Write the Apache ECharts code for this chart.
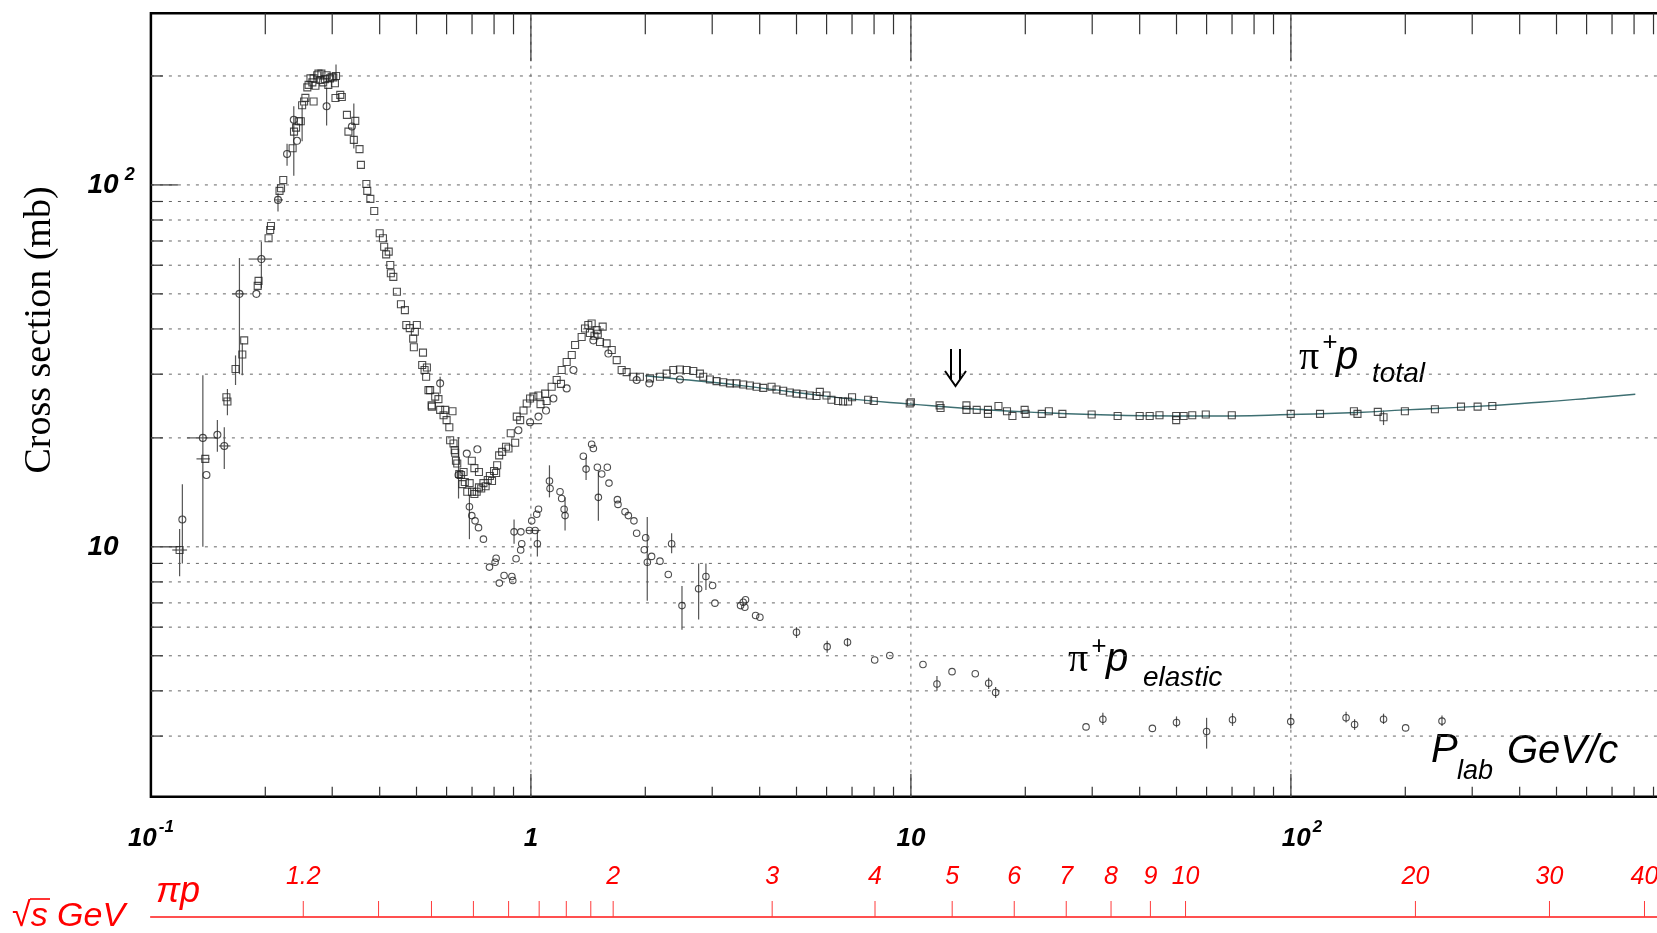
<!DOCTYPE html>
<html><head><meta charset="utf-8">
<script src="https://cdn.jsdelivr.net/npm/echarts@6/dist/echarts.min.js"></script>
<style>html,body{margin:0;padding:0;background:#fff}#c{width:1657px;height:933px}</style>
</head><body><div id="c"></div>
<script>
// ---------------- DATA (p_lab GeV/c , cross section mb) ----------------
const totalSquares = [
[0.119,9.8],[0.139,17.5],[0.158,25.9],[0.159,25.2],[0.167,31.0],[0.174,34.0],[0.176,37.2],[0.191,52.6],[0.192,54.3],
[0.204,71.2],[0.206,75.1],[0.207,77.0],[0.218,96.3],[0.220,97.9],[0.223,103.2],[0.236,126.3],[0.238,140.4],[0.241,144],
[0.245,150],[0.248,150],[0.250,166],[0.253,170],[0.255,174],[0.268,170],
[0.258,186],[0.260,189],[0.263,197],[0.266,192],[0.268,197],[0.271,188],[0.274,201],[0.276,203],[0.279,195],[0.281,203],
[0.284,192],[0.287,196],[0.290,201],[0.293,189],[0.296,197],[0.299,199],[0.302,198],[0.305,191],[0.307,200],
[0.306,173.8],[0.315,177.4],[0.318,175],[0.328,156.2],[0.331,140.4],[0.342,133.2],[0.345,150.3],[0.354,125.6],[0.357,113.6],
[0.369,100.6],[0.371,96.3],[0.378,91.5],[0.387,84.7],[0.400,73.5],[0.408,71.2],[0.411,67.5],[0.416,64.3],[0.4225,65.4],
[0.4265,60.1],[0.428,57.0],[0.4345,55.7],[0.444,50.7],[0.455,46.8],[0.466,45.1],[0.47,41.0],[0.48,40.2],[0.49,37.6],
[0.495,39.3],[0.501,41.0],[0.492,35.6],[0.52,34.4],[0.5175,31.8],[0.5325,31.3],[0.525,30.8],[0.53,29.5],[0.543,27.1],[0.548,24.6],
[0.5376,27.1],[0.56,26.0],[0.5711,25.6],[0.5489,24.4],[0.577,23.9],[0.5951,23.9],[0.6218,23.7],[0.589,23.1],[0.60,22.4],
[0.61,21.4],[0.613,19.7],[0.6256,19.3],[0.63,18.5],[0.632,18.2],[0.635,17.3],[0.64,17.0],[0.648,15.9],[0.655,15.8],[0.66,14.9],[0.665,16.1],
[0.67,15.1],[0.68,14.2],[0.69,15.0],[0.70,14.2],[0.71,14.0],[0.72,14.2],[0.73,14.6],[0.74,14.5],[0.75,15.0],[0.76,14.7],
[0.77,15.3],[0.78,15.7],[0.79,15.2],[0.80,16.2],[0.81,16.0],[0.815,16.8],[0.825,17.9],[0.84,18.3],[0.86,18.9],[0.873,18.7],
[0.885,20.6],[0.909,19.4],[0.699,17.3],[0.71,16.5],[0.73,16.1],
[0.918,22.9],[0.937,22.4],[0.956,23.8],[0.975,24.9],[0.995,25.7],[1.015,26.0],[1.047,26.2],[1.09,26.5],[1.134,27.7],[1.169,28.9],
[1.205,30.8],[1.242,32.4],[1.281,33.9],[1.307,36.1],[1.36,38.0],[1.388,40.1],[1.416,41.0],[1.445,41.4],[1.49,39.7],[1.545,40.6],
[1.582,36.5],[1.632,35.0],[1.682,32.8],[1.733,30.8],[1.786,30.4],[1.86,29.5],[1.936,29.5],[2.058,29.2],[2.186,29.5],[2.276,30.1],
[2.37,30.8],[2.467,30.9],[2.569,30.8],[2.675,30.6],[2.785,30.1],[1.43,39.0],[1.47,38.3],[1.50,38.8],[1.52,36.8],[1.06,24.8],[1.10,25.3],[1.2,28.2],
[2.842,29.5],[2.959,29.0],[3.08,28.7],[3.208,28.5],[3.34,28.3],[3.477,28.3],[3.62,28.1],[3.77,27.9],[3.925,27.7],[4.087,27.5],
[4.298,27.7],[4.43,27.2],[4.612,27.0],[4.802,26.7],[5.0,26.5],[5.205,26.4],[5.42,26.2],[5.643,26.1],[5.759,26.8],[5.996,26.2],
[6.18,25.5],[6.435,25.3],[6.63,25.2],[6.834,25.2],[7.0,25.9],[7.716,25.5],[7.985,25.3],[9.93,24.9],[10.0,25.1],[11.9,24.6],
[11.97,24.2],[14.0,24.6],[14.0,23.9],[14.9,23.9],[15.95,23.9],[15.95,23.3],[17.0,24.5],[17.9,23.7],[18.5,23.0],
[19.92,23.9],[20.05,23.3],[22.1,23.3],[23.07,23.7],[25.04,23.3],[29.9,23.2],[35.0,23.0],[40.0,23.0],[42.5,23.0],[45.1,23.1],
[49.9,23.0],[49.9,22.4],[52.2,23.0],[55.0,23.1],[59.7,23.2],[69.9,23.1],[99.9,23.3],[119.3,23.3],[146.5,23.7],[149.7,23.3],
[169.3,23.6],[175.3,22.8],[199.5,23.7],[239.3,24.0],[280.3,24.4],[310,24.4],[338.9,24.5]
];
const totalCircles = [
[0.121,11.9],[0.137,20.0],[0.140,15.8],[0.1496,20.4],[0.156,19.0],[0.171,50.0],[0.1895,50.0],[0.1953,62.4],[0.216,90.9],
[0.2282,121.8],[0.2377,151.4],[0.2424,132.4],[0.290,165],[0.338,145],[0.577,28.3],[0.645,15.8],[0.678,18.1],[0.723,18.6],
[0.927,21.0],[0.995,22.1],[1.047,22.9],[1.096,23.8],[1.146,25.7],[1.242,27.4],[1.294,30.8],[1.46,37.2],[1.599,34.2],
[1.898,28.9],[2.049,28.3],[2.467,29.0]
];
const elasticPts = [
[0.689,12.9],[0.699,12.2],[0.713,11.8],[0.728,11.3],[0.75,10.5],[0.778,8.79],[0.805,9.07],[0.81,9.3],[0.826,7.94],[0.85,8.33],
[0.891,8.28],[0.896,8.07],[0.914,9.27],[0.903,11.0],[0.941,11.0],[0.946,10.2],[0.94,9.8],[0.991,11.1],[1.005,11.8],[1.026,11.1],
[1.036,12.3],[1.047,12.7],[1.04,10.2],[1.119,15.2],[1.123,14.5],[1.193,14.2],[1.205,13.6],[1.223,12.7],[1.23,12.2],[1.374,17.8],
[1.397,16.4],[1.445,19.2],[1.46,18.7],[1.496,16.6],[1.505,13.7],[1.536,15.9],[1.589,16.6],[1.605,15.0],[1.689,13.5],[1.695,13.1],
[1.769,12.5],[1.805,12.2],[1.867,11.8],[1.898,10.9],[2.005,10.6],[1.988,9.82],[2.025,9.07],[2.078,9.41],[2.186,9.13],[2.299,8.39],
[2.346,10.2],[2.498,6.88],[2.763,7.66],[2.888,8.28],[3.007,7.82],[3.05,6.99],[3.562,6.88],[3.62,7.03],[3.671,7.14],[3.656,6.81],
[3.902,6.46],[4.005,6.39],[5.0,5.81],[6.02,5.30],[6.81,5.45],[8.03,4.87],[8.80,5.01],[10.76,4.73],[11.71,4.18],[12.83,4.52],
[14.77,4.46],[16.02,4.20],[16.71,3.96],[28.9,3.18],[32.0,3.34],[43.2,3.15],[50.0,3.27],[60.0,3.09],[70.2,3.33],[99.9,3.29],
[139.7,3.37],[147.1,3.23],[175.3,3.34],[200.4,3.16],[249.8,3.30]
];
const fitCurve = [
[2.0,29.7],[2.5,29.0],[3,28.5],[4,27.5],[5,26.7],[7,25.6],[10,24.8],[15,24.0],[20,23.6],[30,23.2],[50,23.0],[70,23.0],
[100,23.2],[150,23.5],[200,23.9],[300,24.4],[450,25.1],[600,25.7],[806,26.4]
];
// vertical error bars: [p, low, high]
const errY = [
[0.119,8.3,11.2],[0.121,9.0,14.9],[0.137,10.0,29.8],[0.1496,18.3,22.4],[0.156,16.4,21.4],[0.159,23.1,27.3],[0.167,28.0,33.8],
[0.174,29.8,36.5],[0.171,30.0,62.8],[0.1953,51.8,69.7],[0.216,84.4,94.8],[0.2282,113,130],[0.2377,106,165],[0.25,132,166],
[0.290,146,186],[0.307,195,215],[0.342,126,168],[0.577,26.5,29.5],[0.645,13.6,20.1],[0.689,10.5,13.9],[0.903,10.2,11.9],
[1.04,9.4,11.1],[1.119,13.7,16.8],[1.23,11.1,13.7],[1.397,15.3,17.7],[1.505,11.8,16.2],[2.024,7.1,12.1],[2.346,9.6,10.9],
[2.498,5.9,7.8],[2.763,6.3,9.0],[2.888,7.6,9.0],[60.0,2.77,3.37],[175.3,21.7,23.8],
[32.0,3.22,3.48],[50.0,3.17,3.40],[70.2,3.20,3.47],[99.9,3.15,3.45],[139.7,3.27,3.50],[147.1,3.12,3.34],[175.3,3.24,3.46],
[249.8,3.20,3.42],[11.71,4.0,4.4],[16.02,4.05,4.35],[16.71,3.82,4.10],[5.0,5.6,6.0],[6.02,5.1,5.5],[6.81,5.3,5.6]
];
// horizontal error bars: [p low, p high, sigma]
const errX = [
[0.1138,0.1245,9.8],[0.1245,0.1494,20.0],[0.1318,0.1429,17.5],[0.151,0.162,19.0],[0.1636,0.1792,50.0],
[0.1808,0.2083,62.4],[0.2115,0.2227,90.9],[0.975,1.07,21.9],[0.97,1.06,11.1]
];
// axis ticks / grid values
const xMajorTicks = [1, 10, 100];
const xMinorTicks = [0.2,0.3,0.4,0.5,0.6,0.7,0.8,0.9,2,3,4,5,6,7,8,9,20,30,40,50,60,70,80,90,200,300,400,500,600,700,800,900];
const yMajorTicks = [10, 100];
const yMinorTicks = [3,4,5,6,7,8,9,20,30,40,50,60,70,80,90,200];
const xGridValues = [1, 10, 100];
const yGridValues = [3,4,5,6,7,8,9,10,20,30,40,50,60,70,80,90,100,200];
const sqrtSLabeled = [1.2,2,3,4,5,6,7,8,9,10,20,30,40];
const sqrtSUnlabeled = [1.3,1.4,1.5,1.6,1.7,1.8,1.9];
const X_MIN = 0.1, X_MAX = 1000, Y_MIN = 2.04, Y_MAX = 298;

// pi+ p kinematics: sqrt(s) -> p_lab
const M_PI = 0.13957, M_P = 0.93827;
function plabFromSqrtS(w){ const s=w*w; const E=(s-M_P*M_P-M_PI*M_PI)/(2*M_P); return Math.sqrt(E*E-M_PI*M_PI); }
const redTicks = sqrtSLabeled.map(w=>({p:plabFromSqrtS(w), label:String(w)}))
  .concat(sqrtSUnlabeled.map(w=>({p:plabFromSqrtS(w), label:''})));

const FONT = '"Liberation Sans", Arial, sans-serif';
const chart = echarts.init(document.getElementById('c'));

function isPow10(v){ const l = Math.log10(v); return Math.abs(l - Math.round(l)) < 1e-6 ? Math.round(l) : null; }

const GRID_LEFT = 150.9, GRID_W = 1520;
const option = {
  animation: false,
  backgroundColor: '#fff',
  grid: [
    {left:GRID_LEFT, width:GRID_W, top:13.3, height:783.4, outerBoundsMode:'none', containLabel:false,
     show:true, borderColor:'#000', borderWidth:2.5, backgroundColor:'rgba(0,0,0,0)'},
    {left:GRID_LEFT, width:GRID_W, top:901, height:16, outerBoundsMode:'none', containLabel:false, show:false}
  ],
  xAxis: [
    {type:'log', logBase:10, gridIndex:0, min:X_MIN, max:X_MAX,
     axisLine:{show:false}, axisTick:{show:false}, splitLine:{show:false},
     axisLabel:{show:true, margin:22, formatter:function(v){
        const e = isPow10(v);
        if (e===null || e>2) return '';
        if (e===0) return '{b|1}';
        if (e===1) return '{b|10}';
        if (e>0) return '{pad|}{b|10}{s|' + e + '}';
        return '{b|10}{s|' + e + '}';
      },
      rich:{
        pad:{width:22, lineHeight:40},
        b:{fontFamily:FONT, fontStyle:'italic', fontWeight:'bold', fontSize:26, lineHeight:40, color:'#000', verticalAlign:'middle'},
        s:{fontFamily:FONT, fontStyle:'italic', fontWeight:'bold', fontSize:17, lineHeight:17, color:'#000', verticalAlign:'top', padding:[0,0,0,2]}
      }}
    },
    {type:'log', logBase:10, gridIndex:1, min:X_MIN, max:X_MAX,
     axisLine:{show:true, lineStyle:{color:'#ff5050', width:2}}, axisTick:{show:false}, axisLabel:{show:false}, splitLine:{show:false}}
  ],
  yAxis: [
    {type:'log', logBase:10, gridIndex:0, min:Y_MIN, max:Y_MAX,
     axisLine:{show:false}, axisTick:{show:false}, splitLine:{show:false},
     axisLabel:{show:true, margin:63.4, align:'left', formatter:function(v){
        const e = isPow10(v);
        if (e===1) return '{b|10}';
        if (e===2) return '{b|10}{s|2}';
        return '';
      },
      rich:{
        b:{fontFamily:FONT, fontStyle:'italic', fontWeight:'bold', fontSize:28, lineHeight:38, color:'#000', verticalAlign:'middle'},
        s:{fontFamily:FONT, fontStyle:'italic', fontWeight:'bold', fontSize:18, lineHeight:18, color:'#000', verticalAlign:'top', padding:[0,0,0,6]}
      }}
    },
    {type:'value', gridIndex:1, min:0, max:1, show:false}
  ],
  series: [
    {type:'custom', xAxisIndex:0, yAxisIndex:0, z:1, silent:true, clip:false,
     data: yGridValues.map(v=>[X_MIN, v]), encode:{x:0,y:1},
     renderItem:function(params, api){
       const v = api.value(1); const a = api.coord([X_MIN, v]); const b = api.coord([X_MAX, v]);
       return {type:'line', shape:{x1:a[0], y1:a[1], x2:b[0], y2:b[1]}, style:{stroke:'#666', lineWidth:1, lineDash:[3,6]}};
     }},
    {type:'custom', xAxisIndex:0, yAxisIndex:0, z:1, silent:true, clip:false,
     data: xGridValues.map(v=>[v, Y_MIN]), encode:{x:0,y:1},
     renderItem:function(params, api){
       const v = api.value(0); const a = api.coord([v, Y_MIN]); const b = api.coord([v, Y_MAX]);
       return {type:'line', shape:{x1:a[0], y1:a[1], x2:b[0], y2:b[1]}, style:{stroke:'#666', lineWidth:1, lineDash:[3,5]}};
     }},
    {type:'custom', xAxisIndex:0, yAxisIndex:0, z:3, silent:true, clip:false,
     data: xMajorTicks.map(v=>[v, Y_MIN, 1]).concat(xMinorTicks.map(v=>[v, Y_MIN, 0])), encode:{x:0,y:1},
     renderItem:function(params, api){
       const v = api.value(0), major = api.value(2);
       const b = api.coord([v, Y_MIN]); const t = api.coord([v, Y_MAX]);
       const st = {stroke:'#333', lineWidth:1.2};
       return {type:'group', children:[
         {type:'line', shape:{x1:b[0], y1:b[1], x2:b[0], y2:b[1]-(major?23:10)}, style:st},
         {type:'line', shape:{x1:t[0], y1:t[1], x2:t[0], y2:t[1]+(major?48:21)}, style:st}
       ]};
     }},
    {type:'custom', xAxisIndex:0, yAxisIndex:0, z:3, silent:true, clip:false,
     data: yMajorTicks.map(v=>[X_MIN, v, 1]).concat(yMinorTicks.map(v=>[X_MIN, v, 0])), encode:{x:0,y:1},
     renderItem:function(params, api){
       const v = api.value(1), major = api.value(2);
       const a = api.coord([X_MIN, v]);
       return {type:'line', shape:{x1:a[0], y1:a[1], x2:a[0]+(major?27:12), y2:a[1]}, style:{stroke:'#333', lineWidth:1.2}};
     }},
    {type:'line', xAxisIndex:0, yAxisIndex:0, z:4, data:fitCurve, smooth:true, showSymbol:false, silent:true,
     lineStyle:{color:'#3e6f72', width:1.4}},
    {type:'custom', xAxisIndex:0, yAxisIndex:0, z:4, silent:true,
     data: errY, encode:{x:0, y:[1,2]},
     renderItem:function(params, api){
       const p = api.value(0); const a = api.coord([p, api.value(1)]); const b = api.coord([p, api.value(2)]);
       return {type:'line', shape:{x1:a[0], y1:a[1], x2:b[0], y2:b[1]}, style:{stroke:'#555', lineWidth:1.2}};
     }},
    {type:'custom', xAxisIndex:0, yAxisIndex:0, z:4, silent:true,
     data: errX, encode:{x:[0,1], y:2},
     renderItem:function(params, api){
       const s = api.value(2); const a = api.coord([api.value(0), s]); const b = api.coord([api.value(1), s]);
       return {type:'line', shape:{x1:a[0], y1:a[1], x2:b[0], y2:b[1]}, style:{stroke:'#555', lineWidth:1.2}};
     }},
    {type:'scatter', name:'total', xAxisIndex:0, yAxisIndex:0, z:5, data:totalSquares, symbol:'rect', symbolSize:7,
     itemStyle:{color:'rgba(255,255,255,0)', borderColor:'#222', borderWidth:1.1}},
    {type:'scatter', name:'total2', xAxisIndex:0, yAxisIndex:0, z:5, data:totalCircles, symbol:'circle', symbolSize:7,
     itemStyle:{color:'rgba(255,255,255,0)', borderColor:'#222', borderWidth:1.1}},
    {type:'scatter', name:'elastic', xAxisIndex:0, yAxisIndex:0, z:5, data:elasticPts, symbol:'circle', symbolSize:6.5,
     itemStyle:{color:'rgba(255,255,255,0)', borderColor:'#222', borderWidth:1.1}},
    {type:'custom', xAxisIndex:1, yAxisIndex:1, z:5, silent:true, clip:false,
     data: redTicks.map(t=>[t.p, 0]), encode:{x:0,y:1},
     renderItem:function(params, api){
       const t = redTicks[params.dataIndex];
       const a = api.coord([t.p, 0]); const b = api.coord([t.p, 1]);
       const children = [{type:'line', shape:{x1:a[0], y1:a[1], x2:b[0], y2:b[1]}, style:{stroke:'#ff3b3b', lineWidth:1}}];
       if (t.label) children.push({type:'text', style:{text:t.label, x:b[0], y:b[1]-24, align:'center', verticalAlign:'middle',
          textAlign:'center', textVerticalAlign:'middle', fill:'#ff0000', font:'italic 25px ' + FONT}});
       return {type:'group', children:children};
     }}
  ],
  graphic: [
    {type:'text', x:40, y:330, rotation:Math.PI/2, style:{text:'Cross section (mb)', font:'38px "Liberation Serif", "Times New Roman", serif',
      fill:'#000', align:'center', verticalAlign:'middle', textAlign:'center', textVerticalAlign:'middle'}},
    // pi+ p total
    {type:'text', x:1299, y:358, style:{text:'π', font:'40px "Liberation Serif", serif', fill:'#000', verticalAlign:'middle', textVerticalAlign:'middle'}},
    {type:'text', x:1322, y:343, style:{text:'+', font:'italic 26px ' + FONT, fill:'#000', verticalAlign:'middle', textVerticalAlign:'middle'}},
    {type:'text', x:1336, y:357.6, style:{text:'p', font:'italic 40px ' + FONT, fill:'#000', verticalAlign:'middle', textVerticalAlign:'middle'}},
    {type:'text', x:1372, y:374.3, style:{text:'total', font:'italic 28px ' + FONT, fill:'#000', verticalAlign:'middle', textVerticalAlign:'middle'}},
    // pi+ p elastic
    {type:'text', x:1068, y:660, style:{text:'π', font:'40px "Liberation Serif", serif', fill:'#000', verticalAlign:'middle', textVerticalAlign:'middle'}},
    {type:'text', x:1091, y:647, style:{text:'+', font:'italic 26px ' + FONT, fill:'#000', verticalAlign:'middle', textVerticalAlign:'middle'}},
    {type:'text', x:1106, y:659.6, style:{text:'p', font:'italic 40px ' + FONT, fill:'#000', verticalAlign:'middle', textVerticalAlign:'middle'}},
    {type:'text', x:1143, y:678.3, style:{text:'elastic', font:'italic 28px ' + FONT, fill:'#000', verticalAlign:'middle', textVerticalAlign:'middle'}},
    // P_lab GeV/c
    {type:'text', x:1431, y:750.6, style:{text:'P', font:'italic 40px ' + FONT, fill:'#000', verticalAlign:'middle', textVerticalAlign:'middle'}},
    {type:'text', x:1457, y:771.6, style:{text:'lab', font:'italic 27px ' + FONT, fill:'#000', verticalAlign:'middle', textVerticalAlign:'middle'}},
    {type:'text', x:1507, y:751.6, style:{text:'GeV/c', font:'italic 40px ' + FONT, fill:'#000', verticalAlign:'middle', textVerticalAlign:'middle'}},
    // sqrt(s) GeV and pi p (red)
    {type:'text', x:12, y:917, style:{text:'√s GeV', font:'italic 34px ' + FONT, fill:'#ff0000', verticalAlign:'middle', textVerticalAlign:'middle'}},
    {type:'line', shape:{x1:30, y1:899, x2:50, y2:899}, style:{stroke:'#ff0000', lineWidth:1.6}},
    {type:'text', x:156, y:892, style:{text:'πp', font:'italic 36px ' + FONT, fill:'#ff0000', verticalAlign:'middle', textVerticalAlign:'middle'}},
    // double arrow
    {type:'group', children:[
      {type:'line', shape:{x1:951, y1:349, x2:951, y2:379}, style:{stroke:'#000', lineWidth:2}},
      {type:'line', shape:{x1:960, y1:349, x2:960, y2:379}, style:{stroke:'#000', lineWidth:2}},
      {type:'polyline', shape:{points:[[945,371],[955.5,386],[966,371]]}, style:{stroke:'#000', lineWidth:2, fill:null}}
    ]}
  ]
};
chart.setOption(option);
</script>
</body></html>
